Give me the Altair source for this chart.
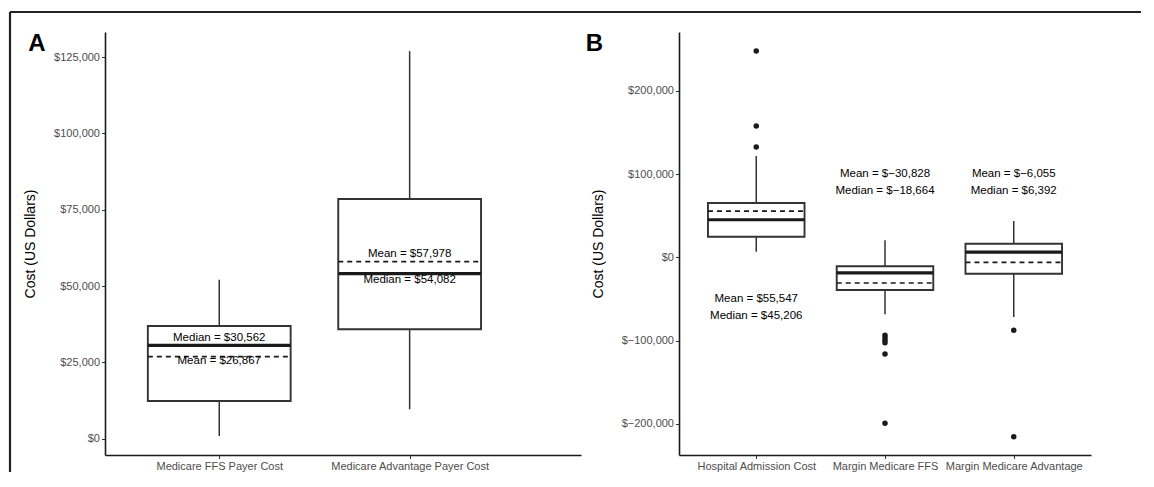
import json
import altair as alt
import pandas as pd

FONT = "Liberation Sans"

# ---------------- Panel A data ----------------
A_CATS = ["Medicare FFS Payer Cost", "Medicare Advantage Payer Cost"]
A_LOWER = [880, 9630]
A_Q1 = [12340, 35820]
A_MEDIAN = [30562, 54082]
A_Q3 = [36900, 78480]
A_UPPER = [52060, 126930]
A_MEAN = [26867, 57978]
A_MEAN_LABEL_Y = [25460, 60520]
A_MEDIAN_LABEL_Y = [32900, 51900]
A_TICKS = [0, 25000, 50000, 75000, 100000, 125000]
A_DOMAIN = [-5340, 133190]

# ---------------- Panel B data ----------------
B_CATS = ["Hospital Admission Cost", "Margin Medicare FFS", "Margin Medicare Advantage"]
B_LOWER = [6790, -68470, -71720]
B_Q1 = [24830, -39250, -19660]
B_MEDIAN = [45206, -18664, 6392]
B_Q3 = [65350, -10760, 16410]
B_UPPER = [121850, 20500, 43700]
B_MEAN = [55547, -30828, -6055]
B_LABEL_Y = [-60000, 90000, 90000]
B_OUT_CAT = [1, 1, 1, 2, 2, 2, 2, 2, 2, 3, 3]
B_OUT_VAL = [248100, 157900, 132700, -93700, -96600, -99700, -102600, -116200, -199500, -87700, -215600]
B_TICKS = [-200000, -100000, 0, 100000, 200000]
B_DOMAIN = [-237600, 270900]

PANEL_LABELS = ["A", "B"]
Y_TITLE = "Cost (US Dollars)"

HEIGHT = 423
HALF = 0.375
BOX_COLOR = "#333333"


def make_panel(cats, lo, q1, med, q3, hi, mean, ticks, ydomain, xdomain, width,
               panel_label, title_x, label_x, frame_left, frame_right, extra_layers_fn):
    n = len(cats)
    df = pd.DataFrame({
        "idx": list(range(1, n + 1)),
        "lo": lo, "q1": q1, "med": med, "q3": q3, "hi": hi, "mean": mean,
    })
    xscale = alt.Scale(domain=xdomain, nice=False, zero=False)
    yscale = alt.Scale(domain=ydomain, nice=False, zero=False)
    xaxis = alt.Axis(
        values=list(range(1, n + 1)),
        labelExpr=json.dumps(cats) + "[datum.value - 1]",
        title=None, grid=False, labelOverlap=False, labelFlush=False,
        labelFont=FONT, labelFontSize=11, labelColor="#4d4d4d",
        tickColor=BOX_COLOR, tickSize=3.5, labelPadding=2,
        domainColor="#1a1a1a", domainWidth=1.6,
    )
    yaxis = alt.Axis(
        values=ticks,
        labelExpr="'$' + format(datum.value, ',')",
        title=Y_TITLE, titleX=title_x, titleY=HEIGHT / 2,
        titleFont=FONT, titleFontSize=14, titleFontWeight="normal", titleColor="black",
        grid=False, labelFont=FONT, labelFontSize=11, labelColor="#4d4d4d",
        tickColor=BOX_COLOR, tickSize=3.5, labelPadding=2,
        domainColor="#1a1a1a", domainWidth=1.6,
    )

    def X(f):
        return alt.X(f, type="quantitative", scale=xscale, axis=xaxis)

    def Y(f):
        return alt.Y(f, type="quantitative", scale=yscale, axis=yaxis)

    base = alt.Chart(df).transform_calculate(
        xl=f"datum.idx - {HALF}", xr=f"datum.idx + {HALF}"
    )

    whisk_hi = base.mark_rule(color=BOX_COLOR, strokeWidth=1.5).encode(
        x=X("idx"), y=Y("q3"), y2="hi:Q")
    whisk_lo = base.mark_rule(color=BOX_COLOR, strokeWidth=1.5).encode(
        x=X("idx"), y=Y("lo"), y2="q1:Q")
    box = base.mark_rect(fill="white", stroke=BOX_COLOR, strokeWidth=1.9).encode(
        x=X("xl"), x2="xr:Q", y=Y("q1"), y2="q3:Q")
    median = base.mark_rule(color="#1a1a1a", strokeWidth=3.2).encode(
        x=X("xl"), x2="xr:Q", y=Y("med"))
    meanl = base.mark_rule(color="#1a1a1a", strokeWidth=1.7, strokeDash=[5, 4]).encode(
        x=X("xl"), x2="xr:Q", y=Y("mean"))

    one = pd.DataFrame({"label": [panel_label]})
    frame_v = alt.Chart(one).mark_rule(color="#222222", strokeWidth=2.2).encode(
        x=alt.value(frame_left if frame_left is not None else -95),
        y=alt.value(-20), y2=alt.value(440))
    frame_h = alt.Chart(one).mark_rule(color="#222222", strokeWidth=2.2).encode(
        x=alt.value(frame_left if frame_left is not None else -98),
        x2=alt.value(frame_right), y=alt.value(-20))
    plabel = alt.Chart(one).mark_text(
        font=FONT, fontSize=24, fontWeight="bold", color="black",
        align="center", baseline="alphabetic").encode(
        x=alt.value(label_x), y=alt.value(19), text="label:N")

    layers = [whisk_hi, whisk_lo, box, median, meanl]
    layers += extra_layers_fn(X, Y)
    if frame_left is not None:
        layers += [frame_v]
    layers += [frame_h, plabel]
    return alt.layer(*layers).properties(width=width, height=HEIGHT)


def a_extra(X, Y):
    rows = []
    for i in range(len(A_CATS)):
        rows.append({"idx": i + 1, "ly": A_MEAN_LABEL_Y[i], "kind": "Mean", "v": A_MEAN[i]})
        rows.append({"idx": i + 1, "ly": A_MEDIAN_LABEL_Y[i], "kind": "Median", "v": A_MEDIAN[i]})
    tdf = pd.DataFrame(rows)
    txt = alt.Chart(tdf).transform_calculate(
        t="datum.kind + ' = $' + format(datum.v, ',')"
    ).mark_text(font=FONT, fontSize=11.5, color="black", align="center", baseline="middle").encode(
        x=X("idx"), y=Y("ly"), text="t:N")
    return [txt]


def b_extra(X, Y):
    odf = pd.DataFrame({"idx": B_OUT_CAT, "val": B_OUT_VAL})
    pts = alt.Chart(odf).mark_circle(size=30, color="#1a1a1a", opacity=1).encode(
        x=X("idx"), y=Y("val"))
    tdf = pd.DataFrame({
        "idx": list(range(1, len(B_CATS) + 1)),
        "ly": B_LABEL_Y, "mean": B_MEAN, "med": B_MEDIAN,
    })
    txt = alt.Chart(tdf).transform_calculate(
        t="'Mean = $' + format(datum.mean, ',') + '\\n' + 'Median = $' + format(datum.med, ',')"
    ).mark_text(font=FONT, fontSize=11.5, color="black", align="center", baseline="middle",
                lineBreak="\n", lineHeight=17, dy=-8.5).encode(
        x=X("idx"), y=Y("ly"), text="t:N")
    return [pts, txt]


panel_a = make_panel(A_CATS, A_LOWER, A_Q1, A_MEDIAN, A_Q3, A_UPPER, A_MEAN,
                     A_TICKS, A_DOMAIN, [0.4, 2.9], 476, PANEL_LABELS[0],
                     -68, -68, -95, 476, a_extra)
panel_b = make_panel(B_CATS, B_LOWER, B_Q1, B_MEDIAN, B_Q3, B_UPPER, B_MEAN,
                     B_TICKS, B_DOMAIN, [0.4, 3.6], 412, PANEL_LABELS[1],
                     -74, -84.5, None, 462, b_extra)

chart = alt.hconcat(panel_a, panel_b, spacing=98, bounds="flush").properties(
    padding={"left": 0, "top": 2, "right": 0, "bottom": 0}
).configure(font=FONT).configure_view(strokeWidth=0, stroke="transparent")

chart.save("out.html", embed_options={"renderer": "svg", "actions": False})
